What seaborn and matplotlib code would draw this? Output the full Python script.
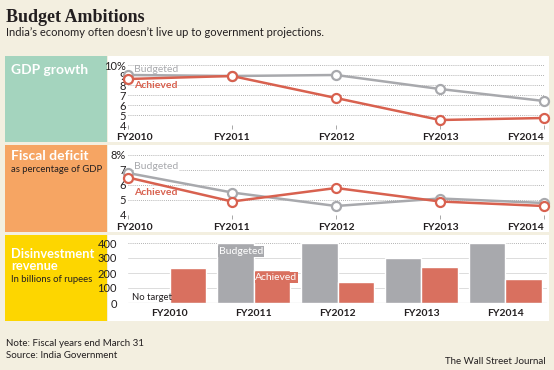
import matplotlib
matplotlib.use('Agg')

import matplotlib.pyplot as plt
import matplotlib.transforms as mtransforms
import seaborn as sns
import pandas as pd
import numpy as np
from matplotlib.patches import Rectangle

years = ['FY2010', 'FY2011', 'FY2012', 'FY2013', 'FY2014']

gdp_budgeted = [9.0, 8.9, 9.0, 7.6, 6.4]
gdp_achieved = [8.6, 8.9, 6.7, 4.5, 4.7]

deficit_budgeted = [6.8, 5.5, 4.6, 5.1, 4.8]
deficit_achieved = [6.5, 4.9, 5.8, 4.9, 4.6]

disinv_budgeted = [np.nan, 400, 400, 300, 400]
disinv_achieved = [235, 220, 140, 240, 157]

BG = '#f3efe0'
GREEN = '#a4d4be'
ORANGE = '#f6a563'
YELLOW = '#fdd600'
GREY = '#a8a9ad'
RED = '#d9705f'
LINE_RED = '#d8614f'
DARK = '#231f20'

W, H = 554, 370

sns.set_theme(style='white')
plt.rcParams['font.family'] = ['Lato', 'DejaVu Sans']

fig = plt.figure(figsize=(W / 100, H / 100), dpi=100)
fig.patch.set_facecolor(BG)

# background axes in pixel coords
bg = fig.add_axes([0, 0, 1, 1])
bg.set_xlim(0, W)
bg.set_ylim(H, 0)
bg.axis('off')

panels = [(56, 142, GREEN), (145, 232, ORANGE), (235, 321, YELLOW)]
for top, bottom, col in panels:
    bg.add_patch(Rectangle((5, top), 102, bottom - top, color=col, lw=0))
    bg.add_patch(Rectangle((108, top), 441, bottom - top, color='white', lw=0))

bg.text(6, 17, 'Budget Ambitions', family='Liberation Serif', weight='bold',
        fontsize=13, color=DARK, va='center')
bg.text(6, 33, "India\u2019s economy often doesn\u2019t live up to government projections.",
        fontsize=8, color=DARK, va='center')

bg.text(11, 70, 'GDP growth', color='white', weight='bold', fontsize=10, va='center')
bg.text(11, 156, 'Fiscal deficit', color='white', weight='bold', fontsize=10, va='center')
bg.text(11, 169, 'as percentage of GDP', color=DARK, fontsize=6.8, va='center')
bg.text(11, 254, 'Disinvestment', color='white', weight='bold', fontsize=9.3, va='center')
bg.text(11, 266, 'revenue', color='white', weight='bold', fontsize=9.3, va='center')
bg.text(11, 280, 'In billions of rupees', color=DARK, fontsize=6.8, va='center')

bg.text(6, 344, 'Note: Fiscal years end March 31', color=DARK, fontsize=7, va='center')
bg.text(6, 356, 'Source: India Government', color=DARK, fontsize=7, va='center')
bg.text(546, 361, 'The Wall Street Journal', color=DARK, fontsize=7, va='center', ha='right')


def px_axes(x0, y0, x1, y1):
    a = fig.add_axes([x0 / W, 1 - y1 / H, (x1 - x0) / W, (y1 - y0) / H])
    a.patch.set_alpha(0)
    for s in a.spines.values():
        s.set_visible(False)
    return a


def line_panel(ax, budgeted, achieved, ylo, yhi):
    df = pd.DataFrame({
        'year': years * 2,
        'value': budgeted + achieved,
        'series': ['Budgeted'] * 5 + ['Achieved'] * 5,
    })
    sns.lineplot(data=df, x='year', y='value', hue='series',
                 palette={'Budgeted': GREY, 'Achieved': LINE_RED},
                 marker='o', markersize=6.5, markerfacecolor='white',
                 markeredgewidth=1.6, linewidth=1.8, legend=False,
                 ax=ax, clip_on=False, zorder=3)
    for ln in ax.lines:
        ln.set_markeredgecolor(ln.get_color())
    ax.set_xlim(0, 4)
    ax.set_ylim(ylo, yhi)
    ticks = list(range(ylo, yhi + 1))
    ax.set_yticks(ticks)
    ax.set_yticklabels([str(t) if t < yhi else f'{t}%' for t in ticks])
    for t in ticks:
        ax.axhline(t, color='#9a9a9a', lw=0.6, ls=(0, (1, 1.5)), zorder=0)
    ax.set_xlabel('')
    ax.set_ylabel('')
    ax.tick_params(axis='y', length=0, pad=1.5, labelsize=8, labelcolor=DARK)
    ax.tick_params(axis='x', length=3, width=0.6, color='#999999', pad=3,
                   labelsize=7.5, labelcolor=DARK, direction='out')
    ax.xaxis.set_ticks_position('bottom')
    labs = ax.get_xticklabels()
    for lab in labs:
        lab.set_fontweight('bold')
    labs[-1].set_horizontalalignment('right')
    # nudge the first year label off the coloured box
    shift = mtransforms.ScaledTranslation(6 / 100, 0, fig.dpi_scale_trans)
    labs[0].set_transform(labs[0].get_transform() + shift)


ax1 = px_axes(128, 65, 544, 125)
line_panel(ax1, gdp_budgeted, gdp_achieved, 4, 10)
ax1.text(0.06, 9.5, 'Budgeted', color=GREY, fontsize=7.5, va='center')
ax1.text(0.06, 7.9, 'Achieved', color=LINE_RED, fontsize=7.5, weight='bold', va='center')

ax2 = px_axes(128, 155, 544, 215)
line_panel(ax2, deficit_budgeted, deficit_achieved, 4, 8)
ax2.text(0.06, 7.2, 'Budgeted', color=GREY, fontsize=7.5, va='center',
         bbox=dict(facecolor='white', edgecolor='none', pad=0.5))
ax2.text(0.06, 5.5, 'Achieved', color=LINE_RED, fontsize=7.5, weight='bold', va='center')

# bar panel
ax3 = px_axes(128, 243, 547, 303)
bars = pd.DataFrame({
    'year': years * 2,
    'value': disinv_budgeted + disinv_achieved,
    'series': ['Budgeted'] * 5 + ['Achieved'] * 5,
})
sns.barplot(data=bars, x='year', y='value', hue='series',
            palette={'Budgeted': GREY, 'Achieved': RED}, width=0.87,
            saturation=1, legend=False, ax=ax3, zorder=3)
ax3.set_xlim(-0.5, 4.5)
ax3.set_ylim(0, 400)
ax3.set_yticks([0, 100, 200, 300, 400])
for t in [100, 200, 300]:
    ax3.axhline(t, color='#dcdcdc', lw=0.7, zorder=0)
ax3.axhline(400, color='#9a9a9a', lw=0.6, ls=(0, (1, 1.5)), zorder=0)
ax3.axhline(0, color='#9a9a9a', lw=0.8, zorder=4)
ax3.set_xlabel('')
ax3.set_ylabel('')
ax3.tick_params(axis='y', length=0, pad=8, labelsize=8, labelcolor=DARK)
ax3.tick_params(axis='x', which='major', length=0, pad=4, labelsize=7.5,
                labelcolor=DARK)
for lab in ax3.get_xticklabels():
    lab.set_fontweight('bold')
ax3.set_xticks([0.5, 1.5, 2.5, 3.5], minor=True)
ax3.tick_params(axis='x', which='minor', length=10, width=0.6, color='#aaaaaa',
                direction='out')
ax3.text(0.58, 345, 'Budgeted', color='white', fontsize=7.5, va='center',
         ha='left', bbox=dict(facecolor=GREY, edgecolor='none', pad=0.6), zorder=5)
ax3.text(1.02, 169, 'Achieved', color='white', fontsize=7.5, va='center',
         ha='left', bbox=dict(facecolor=RED, edgecolor='none', pad=0.6), zorder=5)
ax3.text(-0.45, 40, 'No target', color=DARK, fontsize=6.8, va='center', ha='left')

fig.savefig('out.png', dpi=100, facecolor=BG)
